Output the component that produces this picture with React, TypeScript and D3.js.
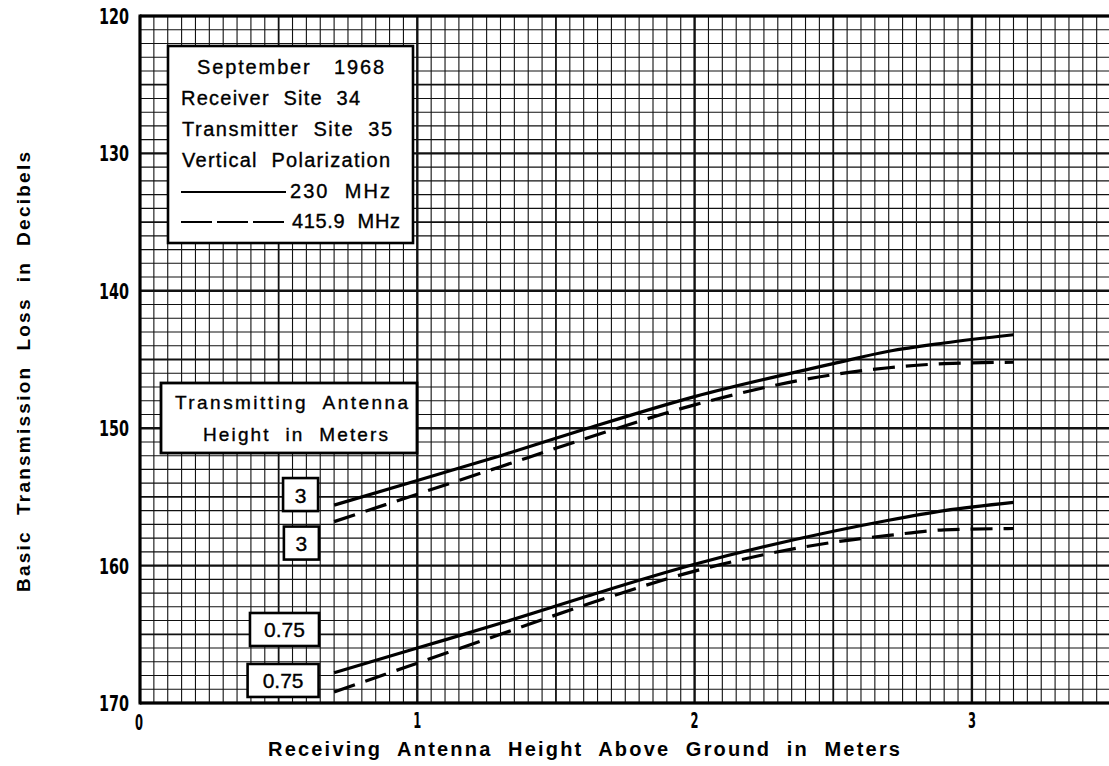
import React from "react";
import * as d3 from "d3";

// Receiving antenna height (m)
const rxHeights = [0.7, 1.0, 1.3, 1.6, 2.0, 2.5, 2.7, 2.9, 3.15];
// Basic transmission loss (dB)
const loss230Tx3 = [155.6, 153.8, 152.0, 150.1, 147.7, 145.3, 144.4, 143.8, 143.2];
const loss416Tx3 = [156.8, 154.8, 152.8, 150.8, 148.3, 146.1, 145.6, 145.3, 145.2];
const loss230Tx075 = [167.8, 166.0, 164.2, 162.3, 159.9, 157.5, 156.7, 156.0, 155.4];
const loss416Tx075 = [169.2, 167.1, 165.0, 162.9, 160.4, 158.3, 157.8, 157.4, 157.3];

const yTicks = [120, 130, 140, 150, 160, 170];
const xTicks = [0, 1, 2, 3];
const legendLines = ["September   1968", "Receiver  Site  34", "Transmitter  Site  35", "Vertical  Polarization"];
const freqLabels = ["230  MHz", "415.9  MHz"];
const txBoxTitle = ["Transmitting  Antenna", "Height  in  Meters"];
const txLabels = ["3", "3", "0.75", "0.75"];

const W = 1109;
const H = 766;
const X0 = 140;
const PX_PER_M = 277.3;
const x = d3.scaleLinear().domain([0, 3.5]).range([X0, X0 + 3.5 * PX_PER_M]);
const y = d3.scaleLinear().domain([120, 170]).range([16, 703]);

const FONT = "'Liberation Sans', Arial, sans-serif";
const NUMFONT = "'DejaVu Sans Condensed', 'DejaVu Sans', sans-serif";

export default function App() {
  const line = d3
    .line<[number, number]>()
    .x((d) => x(d[0]))
    .y((d) => y(d[1]))
    .curve(d3.curveMonotoneX);
  const series = [
    { v: loss230Tx3, dash: false },
    { v: loss416Tx3, dash: true },
    { v: loss230Tx075, dash: false },
    { v: loss416Tx075, dash: true },
  ];

  const minorX = d3.range(0, 71).map((i) => i * 0.05);
  const minorY = d3.range(120, 171);
  const [xl, xr] = x.range();
  const [yt, yb] = y.range();

  const ann = [
    { t: txLabels[0], mx: 0.579, db: 154.83, w: 35 },
    { t: txLabels[1], mx: 0.582, db: 158.36, w: 35 },
    { t: txLabels[2], mx: 0.521, db: 164.65, w: 69 },
    { t: txLabels[3], mx: 0.516, db: 168.36, w: 71 },
  ];

  const txt = { whiteSpace: "pre" as const };

  return (
    <svg
      width={W}
      height={H}
      style={{ position: "absolute", left: 0, top: 0, background: "#fff" }}
    >
      <rect x={0} y={0} width={W} height={H} fill="#fff" />
      <g>
        {minorX.map((v, i) => {
          const major = i % 20 === 0;
          const med = i % 10 === 0;
          return (
            <line
              key={"gx" + i}
              x1={x(v)}
              x2={x(v)}
              y1={yt}
              y2={yb}
              stroke="#111"
              strokeWidth={major ? 2.4 : med ? 1.8 : 1.1}
            />
          );
        })}
        {minorY.map((v) => {
          const major = v % 10 === 0;
          const med = v % 5 === 0;
          return (
            <line
              key={"gy" + v}
              x1={xl}
              x2={xr}
              y1={y(v)}
              y2={y(v)}
              stroke="#111"
              strokeWidth={major ? 2.4 : med ? 1.8 : 1.1}
            />
          );
        })}
        <line x1={xl} x2={xr} y1={yt} y2={yt} stroke="#000" strokeWidth={3} />
        <line x1={xl} x2={xr} y1={yb} y2={yb} stroke="#000" strokeWidth={3} />
        <line x1={xl} x2={xl} y1={yt - 1.5} y2={yb + 1.5} stroke="#000" strokeWidth={3} />
      </g>

      {series.map((s, i) => (
        <path
          key={"s" + i}
          d={line(rxHeights.map((h, j) => [h, s.v[j]] as [number, number])) || ""}
          fill="none"
          stroke="#000"
          strokeWidth={3.2}
          strokeDasharray={s.dash ? "22 11" : undefined}
        />
      ))}

      <g fontFamily={FONT} fontSize={20} fill="#000" stroke="#000" strokeWidth={0.35}>
        <rect x={168} y={46} width={245} height={197} fill="#fff" stroke="#000" strokeWidth={2.6} />
        <text x={197} y={74} textLength={187} lengthAdjust="spacing" style={txt}>
          {legendLines[0]}
        </text>
        <text x={181} y={105} textLength={179} lengthAdjust="spacing" style={txt}>
          {legendLines[1]}
        </text>
        <text x={182} y={136} textLength={210} lengthAdjust="spacing" style={txt}>
          {legendLines[2]}
        </text>
        <text x={182} y={167} textLength={208} lengthAdjust="spacing" style={txt}>
          {legendLines[3]}
        </text>
        <line x1={181} x2={286} y1={192} y2={192} stroke="#000" strokeWidth={2.2} />
        <text x={290} y={198} textLength={100} lengthAdjust="spacing" style={txt}>
          {freqLabels[0]}
        </text>
        <line x1={181} x2={286} y1={222} y2={222} stroke="#000" strokeWidth={2.2} strokeDasharray="31 5" />
        <text x={292} y={228} textLength={108} lengthAdjust="spacing" style={txt}>
          {freqLabels[1]}
        </text>
      </g>

      <g fontFamily={FONT} fontSize={19} fill="#000" stroke="#000" strokeWidth={0.35}>
        <rect x={161} y={383} width={256} height={70} fill="#fff" stroke="#000" strokeWidth={2.8} />
        <text x={175} y={409} textLength={233} lengthAdjust="spacing" style={txt}>
          {txBoxTitle[0]}
        </text>
        <text x={203} y={441} textLength={185} lengthAdjust="spacing" style={txt}>
          {txBoxTitle[1]}
        </text>
      </g>

      <g fontFamily={FONT} fontSize={21} fill="#000">
        {ann.map((a, i) => {
          const cx = x(a.mx);
          const cy = y(a.db);
          return (
            <g key={"a" + i}>
              <rect x={cx - a.w / 2} y={cy - 16.5} width={a.w} height={33} fill="#fff" stroke="#000" strokeWidth={2.6} />
              <text x={cx} y={cy + 8} textAnchor="middle" stroke="#000" strokeWidth={0.35}>
                {a.t}
              </text>
            </g>
          );
        })}
      </g>

      <g fontFamily={NUMFONT} fontWeight="bold" fontSize={22} fill="#000">
        {yTicks.map((t) => (
          <text
            key={"yt" + t}
            x={129}
            y={y(t) + 8}
            textAnchor="end"
            textLength={30}
            lengthAdjust="spacingAndGlyphs"
          >
            {t}
          </text>
        ))}
        {xTicks.map((t) => (
          <text
            key={"xt" + t}
            x={x(t) + (t === 0 ? -1 : 0)}
            y={t === 0 ? 730 : 728}
            textAnchor="middle"
            textLength={8}
            lengthAdjust="spacingAndGlyphs"
          >
            {t}
          </text>
        ))}
      </g>

      <text
        x={268}
        y={756}
        fontFamily={FONT}
        fontWeight="bold"
        fontSize={20}
        textLength={632}
        lengthAdjust="spacing"
        style={txt}
      >
        Receiving  Antenna  Height  Above  Ground  in  Meters
      </text>
      <text
        transform="translate(30, 372) rotate(-90)"
        textAnchor="middle"
        fontFamily={FONT}
        fontWeight="bold"
        fontSize={19}
        textLength={440}
        lengthAdjust="spacing"
        style={txt}
      >
        Basic  Transmission  Loss  in  Decibels
      </text>
    </svg>
  );
}
